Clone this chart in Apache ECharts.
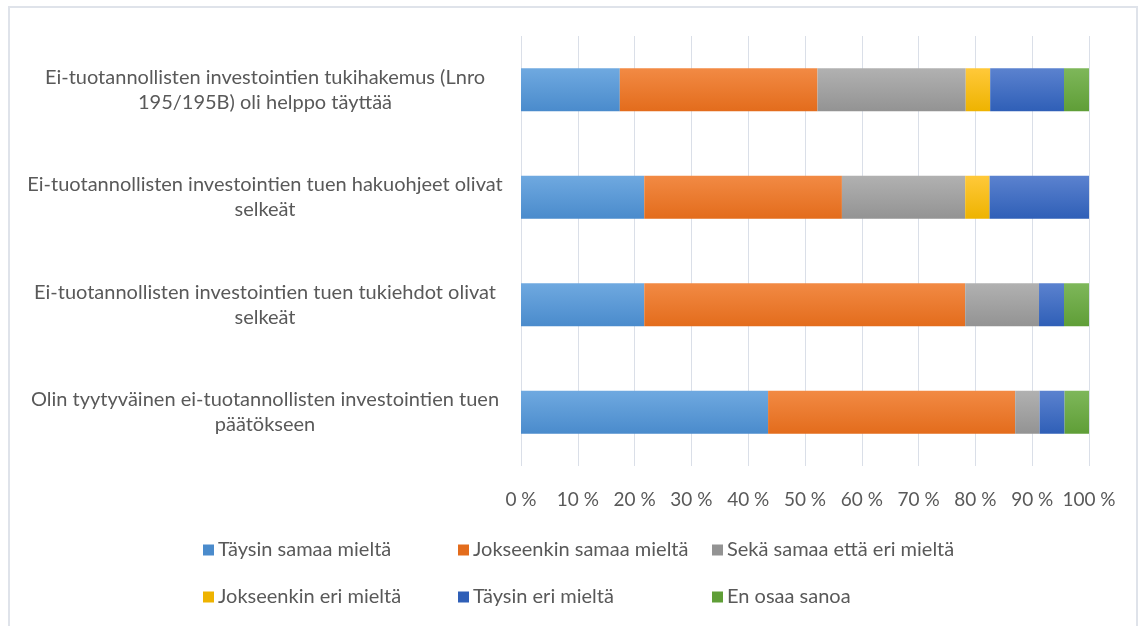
<!DOCTYPE html>
<html>
<head>
<meta charset="utf-8">
<script src="https://cdn.jsdelivr.net/npm/echarts@6/dist/echarts.min.js"></script>
<style>
html,body{margin:0;padding:0;background:#fff;}
#frame{position:absolute;left:8px;top:6px;width:1130px;height:640px;border:2px solid #dfe3ea;box-sizing:border-box;}
#chart{position:absolute;left:0;top:0;width:1141px;height:626px;}
</style>
</head>
<body>
<div id="frame"></div>
<div id="chart"></div>
<script>
const categories = [
  'Ei-tuotannollisten investointien tukihakemus (Lnro\n195/195B) oli helppo täyttää',
  'Ei-tuotannollisten investointien tuen hakuohjeet olivat\nselkeät',
  'Ei-tuotannollisten investointien tuen tukiehdot olivat\nselkeät',
  'Olin tyytyväinen ei-tuotannollisten investointien tuen\npäätökseen'
];
const seriesNames = [
  'Täysin samaa mieltä',
  'Jokseenkin samaa mieltä',
  'Sekä samaa että eri mieltä',
  'Jokseenkin eri mieltä',
  'Täysin eri mieltä',
  'En osaa sanoa'
];
const taysinSamaa = [17.4, 21.7, 21.7, 43.5];
const jokseenkinSamaa = [34.8, 34.8, 56.5, 43.5];
const sekaSamaaEttaEri = [26.1, 21.7, 13.0, 4.3];
const jokseenkinEri = [4.3, 4.3, 0, 0];
const taysinEri = [13.0, 17.5, 4.4, 4.4];
const enOsaaSanoa = [4.4, 0, 4.4, 4.3];
const xTickLabels = ['0 %','10 %','20 %','30 %','40 %','50 %','60 %','70 %','80 %','90 %','100 %'];

const values = [taysinSamaa, jokseenkinSamaa, sekaSamaaEttaEri, jokseenkinEri, taysinEri, enOsaaSanoa];
const gradients = [
  ['#6fa9e0', '#4a8bcc'],
  ['#f28a44', '#e36c1c'],
  ['#b1b1b1', '#939393'],
  ['#ffc93a', '#eeb300'],
  ['#5b82cf', '#2f5fb7'],
  ['#7eb75a', '#5f9e37']
];
const FONT = "Lato, 'Liberation Sans', sans-serif";
const TXT = '#595959';

const chart = echarts.init(document.getElementById('chart'), null, {renderer: 'canvas'});
const series = seriesNames.map((name, i) => ({
  name: name,
  type: 'bar',
  stack: 'total',
  barWidth: 43,
  data: values[i],
  itemStyle: {
    color: new echarts.graphic.LinearGradient(0, 0, 0, 1, [
      {offset: 0, color: gradients[i][0]},
      {offset: 1, color: gradients[i][1]}
    ])
  },
  emphasis: {disabled: true}
}));

function legendCol(left, names) {
  return {
    orient: 'vertical',
    left: left,
    top: 539,
    padding: 0,
    itemWidth: 11,
    itemHeight: 11,
    itemGap: 25,
    icon: 'rect',
    selectedMode: false,
    data: names.map(n => ({name: n, itemStyle: {color: gradients[seriesNames.indexOf(n)][1]}})),
    textStyle: {fontFamily: FONT, fontSize: 20, color: TXT, lineHeight: 22, padding: [0,0,0,-1]}
  };
}

chart.setOption({
  animation: false,
  textStyle: {fontFamily: FONT},
  grid: {left: 521, right: 52, top: 36, bottom: 160, outerBoundsMode: 'none', containLabel: false},
  xAxis: {
    type: 'value',
    min: 0, max: 100, interval: 10,
    axisLine: {show: false},
    axisTick: {show: false},
    splitLine: {show: true, lineStyle: {color: '#dadfe8', width: 1}},
    axisLabel: {
      margin: 24,
      fontFamily: FONT, fontSize: 19, color: TXT,
      formatter: v => xTickLabels[Math.round(v / 10)]
    }
  },
  yAxis: {
    type: 'category',
    inverse: true,
    data: categories,
    axisLine: {show: false},
    axisTick: {show: false},
    splitLine: {show: false},
    axisLabel: {
      align: 'center',
      margin: 256,
      fontFamily: FONT, fontSize: 20, color: TXT, lineHeight: 25,
      padding: [11, 0, 0, 0]
    }
  },
  legend: [
    legendCol(203, ['Täysin samaa mieltä', 'Jokseenkin eri mieltä']),
    legendCol(458, ['Jokseenkin samaa mieltä', 'Täysin eri mieltä']),
    legendCol(712, ['Sekä samaa että eri mieltä', 'En osaa sanoa'])
  ],
  series: series
});
</script>
</body>
</html>
